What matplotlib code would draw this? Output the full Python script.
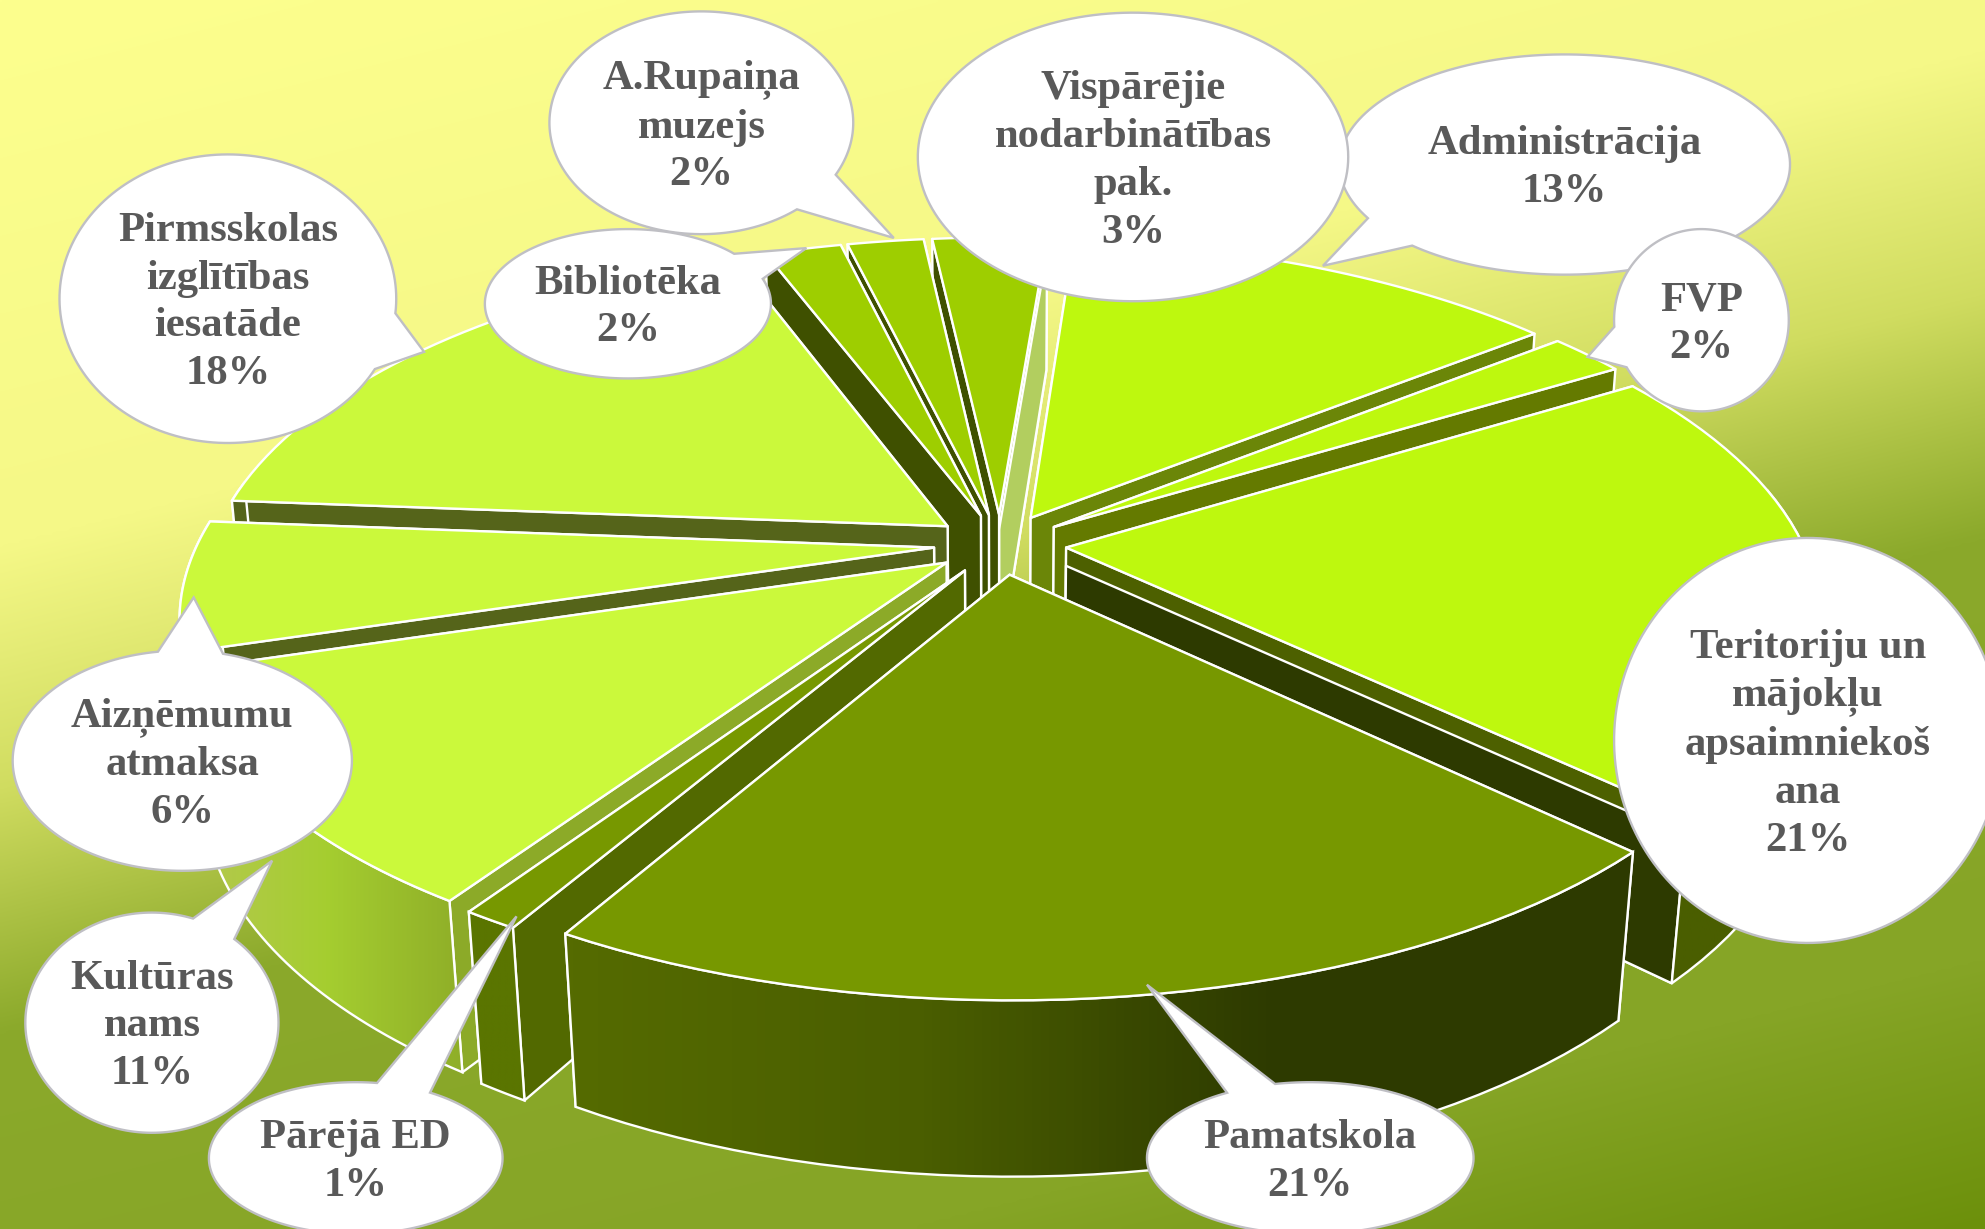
import numpy as np
import matplotlib
matplotlib.use("Agg")
import matplotlib.pyplot as plt
from matplotlib.colors import LinearSegmentedColormap, to_rgb
from matplotlib.patches import Polygon

# dados do grafico, no sentido horario
categorias = ["Administrācija", "FVP", "Teritoriju un\nmājokļu\napsaimniekoš\nana", "Pamatskola",
              "Pārējā ED", "Kultūras\nnams", "Aizņēmumu\natmaksa", "Pirmsskolas\nizglītības\niesatāde",
              "Bibliotēka", "A.Rupaiņa\nmuzejs", "Vispārējie\nnodarbinātības\npak."]
valores = [13, 2, 21, 21, 1, 11, 6, 18, 2, 2, 3]

# cores: topo, parede inicial, parede final, borda (da esquerda para a direita)
cor_topo = ["#BEF80E", "#BEF80E", "#BEF80E", "#779800", "#779800", "#CBF93B", "#CBF93B", "#CBF93B",
            "#9ECE00", "#9ECE00", "#9ECE00"]
cor_ini = ["#B2CE5F", "#6B8608", "#647A00", "#2D3A00", "#526900", "#8CAA28", "#55641A", "#55641A",
           "#3F5000", "#3F5000", "#3F5000"]
cor_fim = ["#6B8608", "#647A00", "#4D6000", "#556B00", "#5A7500", "#55641A", "#55641A", "#3F5000",
           "#3F5000", "#3F5000", "#7A9A00"]
cor_borda = [("#6B8608", "#6B8608"), ("#647A00", "#647A00"), ("#4A5E00", "#4A5E00"),
             ("#556B00", "#4A5E00", "#2D3A00", "#2D3A00"),
             ("#5A7500", "#5A7500"), ("#B5C850", "#A5CE30", "#8FAE28"), ("#B5C850", "#B5C850"),
             ("#55641A", "#55641A"), ("#3F5000", "#3F5000"), ("#3F5000", "#3F5000"), ("#3F5000", "#3F5000")]
# parede final com uma faixa de baixo de outra cor: fatia -> (fracao, cor)
faixa_fim = {2: (0.12, "#2D3A00"), 10: (0.1, "#B2CE5F")}

# centro, semi-eixos, ponta e base do balao (coordenadas da figura)
baloes = {
    0: ((1236, 130), 178, 87, (1045, 210), (1082, 172), (1110, 197)),
    1: ((1344, 253), 69, 72, (1254, 282), (1278, 258), (1282, 292)),
    10: ((895, 124), 170, 114, None, None, None),
    9: ((554, 97), 120, 88, (706, 188), (660, 138), (628, 164)),
    8: ((496, 240), 113, 59, (637, 196), (581, 200), (604, 220)),
    7: ((180, 236), 133, 114, (335, 278), (318, 248), (297, 292)),
    5: ((120, 808), 100, 87, (215, 680), (152, 727), (186, 741)),
    6: ((144, 601), 134, 87, (153, 472), (125, 516), (176, 517)),
    4: ((281, 915), 116, 60, (408, 724), (298, 855), (340, 863)),
    3: ((1035, 915), 129, 60, (906, 778), (965, 860), (1008, 858)),
    2: ((1428, 585), 153, 160, None, None, None),
}

INICIO = 4.5
EXPL = 0.09
CX, CY = 790, 430
RX, RY = 582, 266
KX, KY = 0.19, 0.18
ALTURA = 122
C_BASE = 0.02
TAM_FONTE = 30.7

ordem_z = [0]


def prox_z():
    ordem_z[0] += 1
    return ordem_z[0]


def projetar(X, Y, base=False):
    c = C_BASE if base else 0
    h = ALTURA if base else 0
    return CX + RX*X/(1 - KX*Y + c), CY + (RY*Y + h)/(1 - KY*Y + c)


def chao(theta, centro):
    t = np.radians(theta)
    m = np.radians(centro)
    return np.sin(t) + EXPL*np.sin(m), -np.cos(t) + EXPL*(-np.cos(m))


def plotar_poly(ax, xs, ys, cor):
    p = Polygon(np.column_stack([xs, ys]), closed=True, facecolor=cor, edgecolor="white",
                linewidth=1.7, joinstyle="round", zorder=prox_z())
    ax.add_patch(p)
    return p


def plotar_gradiente(ax, xs, ys, cores):
    p = Polygon(np.column_stack([xs, ys]), closed=True, facecolor="none", edgecolor="white",
                linewidth=1.7, zorder=prox_z())
    ax.add_patch(p)
    mapa = LinearSegmentedColormap.from_list("g", list(cores))
    extent = (min(xs), max(xs), max(ys), min(ys))
    im = ax.imshow(np.linspace(0, 1, 128)[None, :], cmap=mapa, extent=extent, aspect="auto",
                   zorder=p.get_zorder() - 0.5)
    im.set_clip_path(p)


def plotar_fatia(ax, ini, fim, i):
    mid = (ini + fim)/2
    apice = (EXPL*np.sin(np.radians(mid)), -EXPL*np.cos(np.radians(mid)))
    ang = np.linspace(ini, fim, 40)
    X, Y = chao(ang, mid)

    # paredes radiais: a mais ao fundo primeiro
    paredes = [(ini, cor_ini[i], None), (fim, cor_fim[i], faixa_fim.get(i))]
    paredes.sort(key=lambda p: chao(p[0], mid)[1])
    for a, cor, faixa in paredes:
        xr, yr = chao(a, mid)
        x1, y1 = projetar(np.array([apice[0], xr]), np.array([apice[1], yr]))
        x2, y2 = projetar(np.array([xr, apice[0]]), np.array([yr, apice[1]]), base=True)
        plotar_poly(ax, np.r_[x1, x2], np.r_[y1, y2], cor)
        if faixa is not None:
            f, cor2 = faixa
            xm = x1 + f*(x2[::-1] - x1)
            ym = y1 + f*(y2[::-1] - y1)
            plotar_poly(ax, np.r_[xm, x2], np.r_[ym, y2], cor2)

    # parede externa so onde esta virada para a frente
    vis = Y > -0.2
    if vis.sum() >= 2:
        x1, y1 = projetar(X[vis], Y[vis])
        x2, y2 = projetar(X[vis][::-1], Y[vis][::-1], base=True)
        plotar_gradiente(ax, np.r_[x1, x2], np.r_[y1, y2], cor_borda[i])

    xt, yt = projetar(np.r_[apice[0], X], np.r_[apice[1], Y])
    plotar_poly(ax, xt, yt, cor_topo[i])


def plotar_balao(ax, centro, a, b, ponta, base1, base2, texto):
    cx, cy = centro
    if ponta is None:
        t = np.linspace(0, 2*np.pi, 180)
        pts = np.column_stack([cx + a*np.cos(t), cy + b*np.sin(t)])
    else:
        t1 = np.arctan2((base1[1] - cy)/b, (base1[0] - cx)/a)
        t2 = np.arctan2((base2[1] - cy)/b, (base2[0] - cx)/a)
        vao = (t1 - t2) % (2*np.pi)
        if vao < np.pi:
            t1, t2 = t2, t1
            vao = 2*np.pi - vao
        t = t2 + np.linspace(0, vao, 180)
        pts = np.column_stack([cx + a*np.cos(t), cy + b*np.sin(t)])
        pts = np.vstack([pts, ponta])
    ax.add_patch(Polygon(pts, closed=True, facecolor="white", edgecolor="#BFBFC4", linewidth=1.7, zorder=prox_z()))
    ax.text(cx, cy + 3, texto, ha="center", va="center", ma="center", fontsize=TAM_FONTE, fontweight="bold",
            family="Liberation Serif", color="#595959", linespacing=1.34, zorder=prox_z())


def plotar_fundo(ax):
    yy, xx = np.mgrid[0:971:300j, 0:1568:480j]
    t = (yy + 0.25*xx)/960
    pos = [0, 0.45, 0.65, 0.85, 1.2, 1.42]
    cores = np.array([to_rgb(c) for c in ["#FDFF8E", "#F5F887", "#D0DC60", "#8BA92B", "#86A526", "#6C900B"]])
    img = np.dstack([np.interp(t, pos, cores[:, k]) for k in range(3)])
    ax.imshow(img, extent=(0, 1568, 971, 0), aspect="auto", zorder=0, interpolation="bilinear")


def main():
    fig = plt.figure(figsize=(19.85, 12.29), dpi=100)
    ax = fig.add_axes([0, 0, 1, 1])
    plotar_fundo(ax)

    bordas = INICIO + np.r_[0, np.cumsum(valores)]*360/sum(valores)
    fatias = list(range(len(valores)))
    fatias.sort(key=lambda i: -np.cos(np.radians((bordas[i] + bordas[i + 1])/2)))
    for i in fatias:
        plotar_fatia(ax, bordas[i], bordas[i + 1], i)

    for i, (centro, a, b, ponta, b1, b2) in baloes.items():
        plotar_balao(ax, centro, a, b, ponta, b1, b2, f"{categorias[i]}\n{valores[i]}%")

    ax.set_xlim(0, 1568)
    ax.set_ylim(971, 0)
    ax.axis("off")
    fig.savefig("out.png", dpi=100)


if __name__ == "__main__":
    main()
